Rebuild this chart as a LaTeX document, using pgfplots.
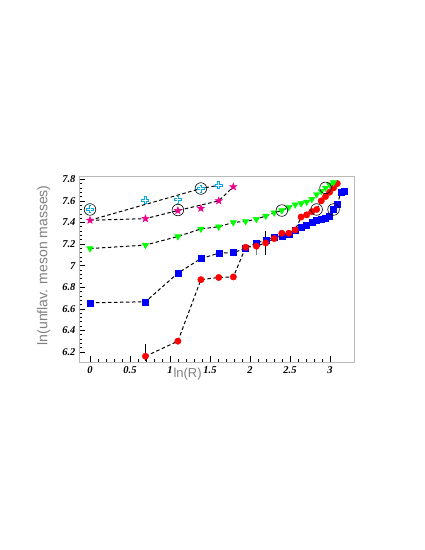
\documentclass[border=0pt]{standalone}
\usepackage{fontspec}
\setmainfont{Liberation Serif}
\newfontfamily\lsans{Liberation Sans}
\usepackage{pgfplots}
\pgfplotsset{compat=1.18}
\usetikzlibrary{plotmarks}

% filled five-pointed star
\pgfdeclareplotmark{fstar}{%
  \pgfpathmoveto{\pgfpointpolar{90}{\pgfplotmarksize}}%
  \pgfpathlineto{\pgfpointpolar{126}{0.42\pgfplotmarksize}}%
  \pgfpathlineto{\pgfpointpolar{162}{\pgfplotmarksize}}%
  \pgfpathlineto{\pgfpointpolar{198}{0.42\pgfplotmarksize}}%
  \pgfpathlineto{\pgfpointpolar{234}{\pgfplotmarksize}}%
  \pgfpathlineto{\pgfpointpolar{270}{0.42\pgfplotmarksize}}%
  \pgfpathlineto{\pgfpointpolar{306}{\pgfplotmarksize}}%
  \pgfpathlineto{\pgfpointpolar{342}{0.42\pgfplotmarksize}}%
  \pgfpathlineto{\pgfpointpolar{18}{\pgfplotmarksize}}%
  \pgfpathlineto{\pgfpointpolar{54}{0.42\pgfplotmarksize}}%
  \pgfpathclose
  \pgfusepathqfillstroke}

\pgfplotstableread{
x y
0.0000 6.655
0.6931 6.665
1.0986 6.93
1.3863 7.065
1.6094 7.115
1.7918 7.12
1.9459 7.16
2.0794 7.21
2.1972 7.235
2.3026 7.26
2.3979 7.27
2.4849 7.295
2.5649 7.33
2.6391 7.36
2.7081 7.375
2.7726 7.40
2.8332 7.42
2.8904 7.43
2.9444 7.44
2.9957 7.46
3.0445 7.52
3.0910 7.565
3.1355 7.68
3.1781 7.69
}\blue

\pgfplotstableread{
x y
0.6931 6.16
1.0986 6.30
1.3863 6.87
1.6094 6.89
1.7918 6.895
1.9459 7.17
2.0794 7.18
2.1972 7.21
2.3026 7.25
2.3979 7.30
2.4849 7.30
2.5649 7.33
2.6391 7.45
2.7081 7.47
2.7726 7.50
2.8332 7.52
2.8904 7.60
2.9444 7.64
2.9957 7.68
3.0445 7.72
3.0910 7.76
}\red

\pgfplotstableread{
x y
0.0000 7.158
0.6931 7.19
1.0986 7.27
1.3863 7.34
1.6094 7.36
1.7918 7.40
1.9459 7.41
2.0794 7.43
2.1972 7.46
2.3026 7.49
2.3979 7.51
2.4849 7.54
2.5649 7.565
2.6391 7.575
2.7081 7.59
2.7726 7.615
2.8332 7.66
2.8904 7.69
2.9444 7.72
2.9957 7.75
3.0445 7.77
}\green

\pgfplotstableread{
x y
0.0000 7.42
0.6931 7.435
1.0986 7.51
1.3863 7.53
1.6094 7.60
1.7918 7.73
}\star

\pgfplotstableread{
x y
0.0000 7.52
0.6931 7.605
1.0986 7.61
1.3863 7.714
1.6094 7.744
}\cyan

\pgfplotstableread{
x y
0.0000 7.52
1.0986 7.515
1.3863 7.714
2.3979 7.51
2.8332 7.52
2.9444 7.72
3.0445 7.52
}\open

\begin{document}
\begin{tikzpicture}[x=1pt,y=1pt]
\useasboundingbox (0,0) rectangle (425,550);
\begin{axis}[
  at={(79pt,188pt)}, anchor=south west,
  scale only axis, width=275pt, height=186pt,
  xmin=-0.1375, xmax=3.3, ymin=6.107, ymax=7.83,
  xtick={0,0.5,1,1.5,2,2.5,3},
  ytick={6.2,6.4,6.6,6.8,7,7.2,7.4,7.6,7.8},
  minor x tick num=4, minor y tick num=4,
  tick pos=left, tick align=inside,
  major tick length=6pt, minor tick length=3pt,
  every tick/.style={black, line width=0.5pt},
  axis line style={gray!55, line width=0.8pt},
  /pgf/number format/assume math mode=true,
  ticklabel style={font=\bfseries\itshape\fontsize{10.5}{12}\selectfont},
  xticklabel style={yshift=-1pt},
  xlabel={ln(R)},
  xlabel style={font=\lsans\fontsize{13}{14}\selectfont, text=gray,
    at={(axis description cs:0.395,0)}, anchor=north, yshift=-3pt},
  ylabel={ln(unflav. meson masses)},
  ylabel style={font=\lsans\fontsize{14}{15}\selectfont, text=gray,
    at={(axis description cs:-0.128,0.52)}, anchor=center},
  clip=false,
]
% markers
\addplot[only marks, mark=square*, mark size=3pt, color=blue] table {\blue};
\addplot[only marks, mark=*, mark size=3.2pt, color=red] table {\red};
\addplot[only marks, mark=triangle*, mark size=3.7pt, color=green, mark options={rotate=180}] table {\green};
\addplot[only marks, mark=fstar, mark size=3.8pt, color=magenta] table {\star};
\addplot[only marks, mark=+, mark size=4pt, color=cyan, line width=2.6pt] table {\cyan};
\addplot[only marks, mark=+, mark size=3pt, color=white, line width=0.9pt] table {\cyan};
% dashed connecting lines
\pgfplotsset{dline/.style={black, line width=1pt, dash pattern=on 3.5pt off 2.5pt, mark=none}}
\addplot[dline] table {\blue};
\addplot[dline] table {\red};
\addplot[dline] table {\green};
\addplot[dline] coordinates {(0,7.42) (0.6931,7.435) (1.0986,7.51) (1.6094,7.60) (1.7918,7.73)};
\addplot[dline] coordinates {(0,7.42) (1.3863,7.714) (1.6094,7.744)};
% error bars
\addplot[draw=none, mark=none, error bars/.cd, y dir=both, y explicit,
  error bar style={black, line width=0.8pt}, error mark=none]
  coordinates {(0.6931,6.16) += (0,0.11) -= (0,0.04)
               (2.1972,7.21) += (0,0.11) -= (0,0.11)};
\addplot[draw=none, mark=none, error bars/.cd, y dir=both, y explicit,
  error bar style={gray, line width=0.8pt}, error mark=none]
  coordinates {(2.0794,7.18) += (0,0.06) -= (0,0.08)};
% open circles
\addplot[only marks, mark=o, mark size=5.8pt, color=black, line width=0.6pt] table {\open};
\end{axis}
\end{tikzpicture}
\end{document}
